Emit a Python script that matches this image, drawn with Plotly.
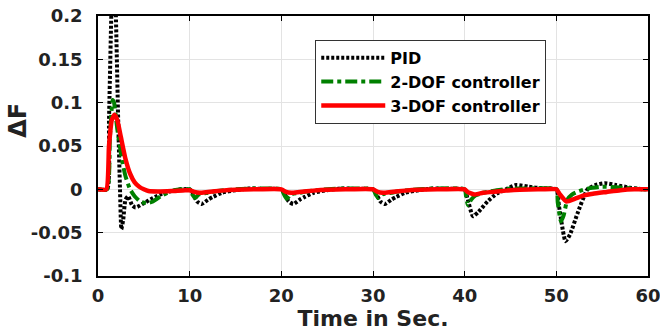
import plotly.graph_objects as go

# ---- data ----
t_pid = [0, 1.0, 1.2, 1.45, 1.7, 1.95, 2.2, 2.4, 2.55, 2.75, 3.0, 3.3, 3.7, 4.1, 5.0, 6.0, 7.0, 8.0, 9.0,
         10.0, 10.3, 10.8, 11.3, 12.0, 12.5, 13.5, 15.0, 16.5, 18.0,
         20.0, 20.3, 20.8, 21.3, 22.0, 22.5, 23.5, 25.0, 26.5, 28.0,
         30.0, 30.3, 30.8, 31.3, 32.0, 32.5, 33.5, 35.0, 36.5, 38.0,
         40.0, 40.3, 40.9, 41.5, 42.5, 43.5, 44.5, 45.6, 47.0, 48.5,
         50.0, 50.3, 51.0, 51.5, 52.3, 53.4, 54.3, 55.3, 56.5, 58.0, 59.5, 60.0]
pid = [0, 0, 0.08, 0.2, 0.28, 0.2, 0.08, 0.0, -0.046, -0.035, -0.012, -0.008, -0.018, -0.021, -0.016, -0.010, -0.005, -0.002, 0.0,
       0.0, -0.004, -0.014, -0.017, -0.012, -0.009, -0.004, -0.001, 0.001, 0.0005,
       0.0, -0.004, -0.014, -0.017, -0.012, -0.009, -0.004, -0.001, 0.001, 0.0005,
       0.0, -0.004, -0.014, -0.017, -0.012, -0.009, -0.004, -0.001, 0.001, 0.0005,
       0.0, -0.010, -0.031, -0.026, -0.014, -0.005, 0.0, 0.005, 0.003, 0.001,
       0.0, -0.020, -0.060, -0.052, -0.028, 0.0, 0.005, 0.007, 0.005, 0.002, 0.0, 0.0]

t_dof2 = [0, 1.0, 1.3, 1.6, 1.75, 2.1, 2.6, 3.0, 3.5, 4.0, 4.6, 5.3, 6.0, 7.0, 8.0, 9.0,
          10.0, 10.3, 10.6, 11.0, 12.0, 13.0, 15.0, 17.0,
          20.0, 20.3, 20.6, 21.0, 22.0, 23.0, 25.0, 27.0,
          30.0, 30.3, 30.6, 31.0, 32.0, 33.0, 35.0, 37.0,
          40.0, 40.15, 40.35, 40.7, 41.2, 42.0, 43.5, 45.0, 47.0,
          50.0, 50.15, 50.5, 50.8, 51.2, 51.7, 52.5, 53.5, 55.0, 57.0, 59.0, 60.0]
dof2 = [0, 0, 0.06, 0.103, 0.1, 0.07, 0.035, 0.015, 0.0, -0.008, -0.014, -0.016, -0.014, -0.007, -0.002, 0.0,
        0.0, -0.006, -0.010, -0.006, -0.004, -0.002, 0.0, 0.001,
        0.0, -0.006, -0.011, -0.006, -0.004, -0.002, 0.0, 0.001,
        0.0, -0.006, -0.010, -0.006, -0.004, -0.002, 0.0, 0.001,
        0.0, -0.008, -0.018, -0.012, -0.007, -0.004, -0.001, 0.001, 0.001,
        0.0, -0.015, -0.037, -0.030, -0.012, -0.006, -0.002, 0.001, 0.003, 0.002, 0.0005, 0.0]

t_dof3 = [0, 0.9, 1.2, 1.5, 1.8, 2.1, 2.5, 3.0, 3.5, 4.0, 4.5, 5.0, 5.5, 6.5, 8.0, 9.5,
          10.0, 10.5, 11.1, 12.0, 13.5, 15.0, 17.0,
          20.0, 20.5, 21.1, 22.0, 23.5, 25.0, 27.0,
          30.0, 30.5, 31.1, 32.0, 33.5, 35.0, 37.0,
          40.0, 40.3, 41.1, 42.0, 43.0, 44.5, 46.0, 48.0,
          50.0, 50.4, 51.1, 52.0, 53.0, 54.0, 55.5, 57.0, 58.5, 60.0]
dof3 = [0, 0, 0.05, 0.08, 0.086, 0.08, 0.06, 0.035, 0.018, 0.008, 0.003, 0.0, -0.002, -0.0025, -0.002, -0.001,
        -0.001, -0.003, -0.004, -0.003, -0.0015, -0.0005, 0.0,
        0.0, -0.003, -0.004, -0.003, -0.0015, -0.0005, 0.0,
        0.0, -0.003, -0.004, -0.003, -0.0015, -0.0005, 0.0,
        0.0, -0.003, -0.006, -0.004, -0.003, -0.0015, -0.0005, 0.0,
        0.0, -0.006, -0.014, -0.011, -0.007, -0.005, -0.003, -0.001, 0.0, 0.0]

x_ticks = [0, 10, 20, 30, 40, 50, 60]
y_ticks = [-0.1, -0.05, 0, 0.05, 0.1, 0.15, 0.2]
y_tick_text = ["-0.1", "-0.05", "0", "0.05", "0.1", "0.15", "0.2"]

FONT = "DejaVu Sans"

fig = go.Figure()
fig.add_trace(go.Scatter(x=t_pid, y=pid, mode="lines", name="PID",
                         line=dict(color="black", width=4, dash="3px,2px", shape="spline", smoothing=0.5)))
fig.add_trace(go.Scatter(x=t_dof2, y=dof2, mode="lines", name="2-DOF controller",
                         line=dict(color="#008000", width=4, dash="dashdot", shape="spline", smoothing=0.5)))
fig.add_trace(go.Scatter(x=t_dof3, y=dof3, mode="lines", name="3-DOF controller",
                         line=dict(color="#ff0000", width=4.5, shape="spline", smoothing=0.5)))

axis_common = dict(showline=True, linecolor="black", linewidth=1.5, mirror="ticks",
                   ticks="inside", ticklen=5, tickcolor="black", automargin=False,
                   ticklabeloverflow="allow",
                   showgrid=True, gridcolor="#e3e3e3", gridwidth=1, zeroline=False,
                   tickfont=dict(family=FONT, size=18, color="#222", weight="bold"))

fig.update_xaxes(range=[0, 60], tickvals=x_ticks, ticklabelstandoff=3,
                 title=dict(text="Time in Sec.", standoff=0,
                            font=dict(family=FONT, size=22, color="#222", weight="bold")),
                 **axis_common)
fig.update_yaxes(range=[-0.1, 0.2], tickvals=y_ticks, ticktext=y_tick_text,
                 ticklabelstandoff=10, **axis_common)

fig.add_annotation(text="ΔF", xref="paper", yref="paper", x=-0.175, y=0.6,
                   textangle=-90, showarrow=False,
                   font=dict(family=FONT, size=24, color="#222", weight="bold"))

fig.update_layout(
    width=660, height=331,
    margin=dict(l=98, r=12, t=16, b=55),
    plot_bgcolor="white", paper_bgcolor="white",
    showlegend=True,
    legend=dict(x=0.395, y=0.908, xanchor="left", yanchor="top",
                bgcolor="white", bordercolor="#333", borderwidth=1,
                font=dict(family=FONT, size=16, color="black", weight="bold"),
                tracegroupgap=0, itemwidth=64, entrywidth=280, entrywidthmode="pixels"),
)

fig.write_html("out.html")
